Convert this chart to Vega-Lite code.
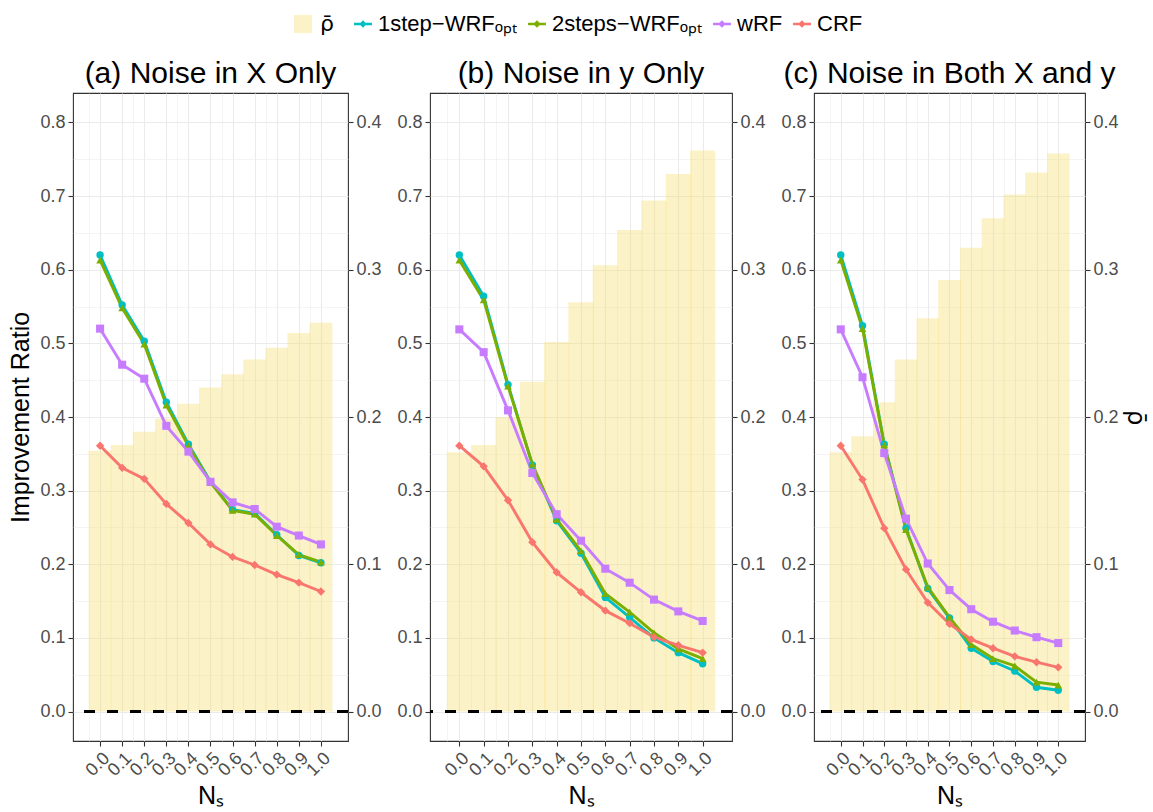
{
  "$schema": "https://vega.github.io/schema/vega-lite/v6.json",
  "padding": {"left": 8, "top": 13, "right": 2, "bottom": 2},
  "spacing": 14,
  "datasets": {
    "lines": [
      {"p":"a","Ns":0.0,"m":"1step−WRFₒₚₜ","v":0.620},{"p":"a","Ns":0.1,"m":"1step−WRFₒₚₜ","v":0.552},{"p":"a","Ns":0.2,"m":"1step−WRFₒₚₜ","v":0.503},{"p":"a","Ns":0.3,"m":"1step−WRFₒₚₜ","v":0.420},{"p":"a","Ns":0.4,"m":"1step−WRFₒₚₜ","v":0.363},{"p":"a","Ns":0.5,"m":"1step−WRFₒₚₜ","v":0.312},{"p":"a","Ns":0.6,"m":"1step−WRFₒₚₜ","v":0.274},{"p":"a","Ns":0.7,"m":"1step−WRFₒₚₜ","v":0.269},{"p":"a","Ns":0.8,"m":"1step−WRFₒₚₜ","v":0.240},{"p":"a","Ns":0.9,"m":"1step−WRFₒₚₜ","v":0.212},{"p":"a","Ns":1.0,"m":"1step−WRFₒₚₜ","v":0.202},
      {"p":"a","Ns":0.0,"m":"2steps−WRFₒₚₜ","v":0.613},{"p":"a","Ns":0.1,"m":"2steps−WRFₒₚₜ","v":0.548},{"p":"a","Ns":0.2,"m":"2steps−WRFₒₚₜ","v":0.499},{"p":"a","Ns":0.3,"m":"2steps−WRFₒₚₜ","v":0.416},{"p":"a","Ns":0.4,"m":"2steps−WRFₒₚₜ","v":0.361},{"p":"a","Ns":0.5,"m":"2steps−WRFₒₚₜ","v":0.311},{"p":"a","Ns":0.6,"m":"2steps−WRFₒₚₜ","v":0.273},{"p":"a","Ns":0.7,"m":"2steps−WRFₒₚₜ","v":0.268},{"p":"a","Ns":0.8,"m":"2steps−WRFₒₚₜ","v":0.239},{"p":"a","Ns":0.9,"m":"2steps−WRFₒₚₜ","v":0.213},{"p":"a","Ns":1.0,"m":"2steps−WRFₒₚₜ","v":0.203},
      {"p":"a","Ns":0.0,"m":"wRF","v":0.520},{"p":"a","Ns":0.1,"m":"wRF","v":0.471},{"p":"a","Ns":0.2,"m":"wRF","v":0.452},{"p":"a","Ns":0.3,"m":"wRF","v":0.388},{"p":"a","Ns":0.4,"m":"wRF","v":0.353},{"p":"a","Ns":0.5,"m":"wRF","v":0.312},{"p":"a","Ns":0.6,"m":"wRF","v":0.284},{"p":"a","Ns":0.7,"m":"wRF","v":0.275},{"p":"a","Ns":0.8,"m":"wRF","v":0.251},{"p":"a","Ns":0.9,"m":"wRF","v":0.239},{"p":"a","Ns":1.0,"m":"wRF","v":0.227},
      {"p":"a","Ns":0.0,"m":"CRF","v":0.361},{"p":"a","Ns":0.1,"m":"CRF","v":0.331},{"p":"a","Ns":0.2,"m":"CRF","v":0.316},{"p":"a","Ns":0.3,"m":"CRF","v":0.282},{"p":"a","Ns":0.4,"m":"CRF","v":0.256},{"p":"a","Ns":0.5,"m":"CRF","v":0.227},{"p":"a","Ns":0.6,"m":"CRF","v":0.210},{"p":"a","Ns":0.7,"m":"CRF","v":0.199},{"p":"a","Ns":0.8,"m":"CRF","v":0.186},{"p":"a","Ns":0.9,"m":"CRF","v":0.175},{"p":"a","Ns":1.0,"m":"CRF","v":0.163},
      {"p":"b","Ns":0.0,"m":"1step−WRFₒₚₜ","v":0.620},{"p":"b","Ns":0.1,"m":"1step−WRFₒₚₜ","v":0.564},{"p":"b","Ns":0.2,"m":"1step−WRFₒₚₜ","v":0.444},{"p":"b","Ns":0.3,"m":"1step−WRFₒₚₜ","v":0.335},{"p":"b","Ns":0.4,"m":"1step−WRFₒₚₜ","v":0.259},{"p":"b","Ns":0.5,"m":"1step−WRFₒₚₜ","v":0.215},{"p":"b","Ns":0.6,"m":"1step−WRFₒₚₜ","v":0.155},{"p":"b","Ns":0.7,"m":"1step−WRFₒₚₜ","v":0.128},{"p":"b","Ns":0.8,"m":"1step−WRFₒₚₜ","v":0.100},{"p":"b","Ns":0.9,"m":"1step−WRFₒₚₜ","v":0.080},{"p":"b","Ns":1.0,"m":"1step−WRFₒₚₜ","v":0.065},
      {"p":"b","Ns":0.0,"m":"2steps−WRFₒₚₜ","v":0.613},{"p":"b","Ns":0.1,"m":"2steps−WRFₒₚₜ","v":0.559},{"p":"b","Ns":0.2,"m":"2steps−WRFₒₚₜ","v":0.442},{"p":"b","Ns":0.3,"m":"2steps−WRFₒₚₜ","v":0.336},{"p":"b","Ns":0.4,"m":"2steps−WRFₒₚₜ","v":0.261},{"p":"b","Ns":0.5,"m":"2steps−WRFₒₚₜ","v":0.218},{"p":"b","Ns":0.6,"m":"2steps−WRFₒₚₜ","v":0.160},{"p":"b","Ns":0.7,"m":"2steps−WRFₒₚₜ","v":0.135},{"p":"b","Ns":0.8,"m":"2steps−WRFₒₚₜ","v":0.107},{"p":"b","Ns":0.9,"m":"2steps−WRFₒₚₜ","v":0.085},{"p":"b","Ns":1.0,"m":"2steps−WRFₒₚₜ","v":0.072},
      {"p":"b","Ns":0.0,"m":"wRF","v":0.519},{"p":"b","Ns":0.1,"m":"wRF","v":0.488},{"p":"b","Ns":0.2,"m":"wRF","v":0.409},{"p":"b","Ns":0.3,"m":"wRF","v":0.324},{"p":"b","Ns":0.4,"m":"wRF","v":0.268},{"p":"b","Ns":0.5,"m":"wRF","v":0.232},{"p":"b","Ns":0.6,"m":"wRF","v":0.194},{"p":"b","Ns":0.7,"m":"wRF","v":0.175},{"p":"b","Ns":0.8,"m":"wRF","v":0.152},{"p":"b","Ns":0.9,"m":"wRF","v":0.136},{"p":"b","Ns":1.0,"m":"wRF","v":0.123},
      {"p":"b","Ns":0.0,"m":"CRF","v":0.361},{"p":"b","Ns":0.1,"m":"CRF","v":0.333},{"p":"b","Ns":0.2,"m":"CRF","v":0.287},{"p":"b","Ns":0.3,"m":"CRF","v":0.230},{"p":"b","Ns":0.4,"m":"CRF","v":0.189},{"p":"b","Ns":0.5,"m":"CRF","v":0.162},{"p":"b","Ns":0.6,"m":"CRF","v":0.137},{"p":"b","Ns":0.7,"m":"CRF","v":0.120},{"p":"b","Ns":0.8,"m":"CRF","v":0.101},{"p":"b","Ns":0.9,"m":"CRF","v":0.090},{"p":"b","Ns":1.0,"m":"CRF","v":0.080},
      {"p":"c","Ns":0.0,"m":"1step−WRFₒₚₜ","v":0.620},{"p":"c","Ns":0.1,"m":"1step−WRFₒₚₜ","v":0.524},{"p":"c","Ns":0.2,"m":"1step−WRFₒₚₜ","v":0.363},{"p":"c","Ns":0.3,"m":"1step−WRFₒₚₜ","v":0.249},{"p":"c","Ns":0.4,"m":"1step−WRFₒₚₜ","v":0.167},{"p":"c","Ns":0.5,"m":"1step−WRFₒₚₜ","v":0.127},{"p":"c","Ns":0.6,"m":"1step−WRFₒₚₜ","v":0.086},{"p":"c","Ns":0.7,"m":"1step−WRFₒₚₜ","v":0.068},{"p":"c","Ns":0.8,"m":"1step−WRFₒₚₜ","v":0.055},{"p":"c","Ns":0.9,"m":"1step−WRFₒₚₜ","v":0.033},{"p":"c","Ns":1.0,"m":"1step−WRFₒₚₜ","v":0.029},
      {"p":"c","Ns":0.0,"m":"2steps−WRFₒₚₜ","v":0.613},{"p":"c","Ns":0.1,"m":"2steps−WRFₒₚₜ","v":0.520},{"p":"c","Ns":0.2,"m":"2steps−WRFₒₚₜ","v":0.362},{"p":"c","Ns":0.3,"m":"2steps−WRFₒₚₜ","v":0.247},{"p":"c","Ns":0.4,"m":"2steps−WRFₒₚₜ","v":0.169},{"p":"c","Ns":0.5,"m":"2steps−WRFₒₚₜ","v":0.128},{"p":"c","Ns":0.6,"m":"2steps−WRFₒₚₜ","v":0.091},{"p":"c","Ns":0.7,"m":"2steps−WRFₒₚₜ","v":0.072},{"p":"c","Ns":0.8,"m":"2steps−WRFₒₚₜ","v":0.062},{"p":"c","Ns":0.9,"m":"2steps−WRFₒₚₜ","v":0.040},{"p":"c","Ns":1.0,"m":"2steps−WRFₒₚₜ","v":0.036},
      {"p":"c","Ns":0.0,"m":"wRF","v":0.519},{"p":"c","Ns":0.1,"m":"wRF","v":0.454},{"p":"c","Ns":0.2,"m":"wRF","v":0.351},{"p":"c","Ns":0.3,"m":"wRF","v":0.262},{"p":"c","Ns":0.4,"m":"wRF","v":0.201},{"p":"c","Ns":0.5,"m":"wRF","v":0.165},{"p":"c","Ns":0.6,"m":"wRF","v":0.139},{"p":"c","Ns":0.7,"m":"wRF","v":0.122},{"p":"c","Ns":0.8,"m":"wRF","v":0.110},{"p":"c","Ns":0.9,"m":"wRF","v":0.101},{"p":"c","Ns":1.0,"m":"wRF","v":0.093},
      {"p":"c","Ns":0.0,"m":"CRF","v":0.361},{"p":"c","Ns":0.1,"m":"CRF","v":0.315},{"p":"c","Ns":0.2,"m":"CRF","v":0.249},{"p":"c","Ns":0.3,"m":"CRF","v":0.193},{"p":"c","Ns":0.4,"m":"CRF","v":0.148},{"p":"c","Ns":0.5,"m":"CRF","v":0.119},{"p":"c","Ns":0.6,"m":"CRF","v":0.098},{"p":"c","Ns":0.7,"m":"CRF","v":0.086},{"p":"c","Ns":0.8,"m":"CRF","v":0.075},{"p":"c","Ns":0.9,"m":"CRF","v":0.067},{"p":"c","Ns":1.0,"m":"CRF","v":0.060}
    ],
    "bars": [
      {"p":"a","Ns":0.0,"rho":0.177},{"p":"a","Ns":0.1,"rho":0.181},{"p":"a","Ns":0.2,"rho":0.190},{"p":"a","Ns":0.3,"rho":0.199},{"p":"a","Ns":0.4,"rho":0.209},{"p":"a","Ns":0.5,"rho":0.220},{"p":"a","Ns":0.6,"rho":0.229},{"p":"a","Ns":0.7,"rho":0.239},{"p":"a","Ns":0.8,"rho":0.247},{"p":"a","Ns":0.9,"rho":0.257},{"p":"a","Ns":1.0,"rho":0.264},
      {"p":"b","Ns":0.0,"rho":0.176},{"p":"b","Ns":0.1,"rho":0.181},{"p":"b","Ns":0.2,"rho":0.200},{"p":"b","Ns":0.3,"rho":0.224},{"p":"b","Ns":0.4,"rho":0.251},{"p":"b","Ns":0.5,"rho":0.278},{"p":"b","Ns":0.6,"rho":0.303},{"p":"b","Ns":0.7,"rho":0.327},{"p":"b","Ns":0.8,"rho":0.347},{"p":"b","Ns":0.9,"rho":0.365},{"p":"b","Ns":1.0,"rho":0.381},
      {"p":"c","Ns":0.0,"rho":0.176},{"p":"c","Ns":0.1,"rho":0.187},{"p":"c","Ns":0.2,"rho":0.210},{"p":"c","Ns":0.3,"rho":0.239},{"p":"c","Ns":0.4,"rho":0.267},{"p":"c","Ns":0.5,"rho":0.293},{"p":"c","Ns":0.6,"rho":0.315},{"p":"c","Ns":0.7,"rho":0.335},{"p":"c","Ns":0.8,"rho":0.351},{"p":"c","Ns":0.9,"rho":0.366},{"p":"c","Ns":1.0,"rho":0.379}
    ]
  },
  "hconcat": [
    {
      "title": "(a) Noise in X Only",
      "width": 275, "height": 648,
      "layer": [
        {
          "data": {"name": "bars"},
          "transform": [{"filter": "datum.p == 'a'"}],
          "mark": {"type": "bar", "size": 22.9, "opacity": 0.42},
          "encoding": {
            "x": {"field": "Ns", "type": "quantitative", "title": "Nₛ", "scale": {"domain": [-0.1, 1.1], "nice": false, "zero": false},
              "axis": {"orient": "bottom", "values": [0,0.1,0.2,0.3,0.4,0.5,0.6,0.7,0.8,0.9,1], "format": ".1f", "labelAngle": -45, "labelOverlap": false, "grid": true, "gridWidth": 1.1}},
            "y": {"field": "rho", "type": "quantitative", "scale": {"domain": [-0.02, 0.42], "nice": false, "zero": false},
              "axis": {"orient": "right", "title": null, "values": [0,0.1,0.2,0.3,0.4], "format": ".1f", "grid": false}},
            "y2": {"datum": 0},
            "color": {"datum": "ρ̄", "scale": {"domain": ["ρ̄"], "range": ["#F7E07A"]},
              "legend": {"title": null, "orient": "top", "symbolType": "square", "symbolSize": 330, "symbolOpacity": 0.42, "labelFontSize": 22, "labelFont": "DejaVu Sans", "labelColor": "black", "labelOffset": 6}}
          }
        },
        {
          "data": {"name": "lines"},
          "transform": [{"filter": "datum.p == 'a'"}],
          "layer": [
            {"mark": {"type": "rule", "color": "black", "strokeWidth": 2.8, "strokeDash": [11, 12]},
             "encoding": {"y": {"datum": 0}}},
            {"mark": {"type": "line", "strokeWidth": 2.9},
             "encoding": {
               "x": {"field": "Ns", "type": "quantitative", "scale": {"domain": [-0.1, 1.1], "nice": false, "zero": false},
                 "axis": {"orient": "top", "title": null, "values": [-0.05,0.05,0.15,0.25,0.35,0.45,0.55,0.65,0.75,0.85,0.95,1.05], "labels": false, "ticks": false, "domain": false, "grid": true, "gridWidth": 0.55}},
               "y": {"field": "v", "type": "quantitative"},
               "stroke": {"field": "m", "type": "nominal", "scale": {"domain": ["1step−WRFₒₚₜ","2steps−WRFₒₚₜ","wRF","CRF"], "range": ["#00BFC4","#7CAE00","#C77CFF","#F8766D"]}, "legend": null}
             }},
            {"mark": {"type": "point", "filled": true, "opacity": 1},
             "encoding": {
               "x": {"field": "Ns", "type": "quantitative"},
               "y": {"field": "v", "type": "quantitative"},
               "fill": {"field": "m", "type": "nominal", "sort": ["1step−WRFₒₚₜ","2steps−WRFₒₚₜ","wRF","CRF"], "scale": {"range": ["#00BFC4","#7CAE00","#C77CFF","#F8766D"]},
                 "legend": {"title": null, "orient": "top", "direction": "horizontal", "symbolType": "M-1,-0.14H1V0.14H-1Z M-0.42,0L0,-0.42L0.42,0L0,0.42Z", "symbolSize": 320, "symbolStrokeWidth": 0, "symbolOpacity": 1, "labelFontSize": 22, "labelColor": "black", "columnPadding": 8, "labelOffset": 4}},
               "shape": {"field": "m", "type": "nominal", "scale": {"domain": ["1step−WRFₒₚₜ","2steps−WRFₒₚₜ","wRF","CRF"], "range": ["circle","triangle-up","square","diamond"]}, "legend": null},
               "size": {"field": "m", "type": "nominal", "scale": {"domain": ["1step−WRFₒₚₜ","2steps−WRFₒₚₜ","wRF","CRF"], "range": [55, 70, 60, 30]}, "legend": null}
             }}
          ],
          "encoding": {
            "y": {"scale": {"domain": [-0.04, 0.84], "nice": false, "zero": false},
              "axis": {"orient": "left", "title": "Improvement Ratio", "titlePadding": 6, "values": [0,0.05,0.1,0.15,0.2,0.25,0.3,0.35,0.4,0.45,0.5,0.55,0.6,0.65,0.7,0.75,0.8],
                "labelExpr": "abs(round(datum.value*20)) % 2 == 0 ? format(datum.value, '.1f') : ''",
                "labelOverlap": false, "grid": true,
                "gridWidth": {"condition": {"test": "abs(round(datum.value*20)) % 2 == 0", "value": 1.1}, "value": 0.55},
                "tickOpacity": {"condition": {"test": "abs(round(datum.value*20)) % 2 == 0", "value": 1}, "value": 0}}}
          }
        }
      ],
      "resolve": {"scale": {"y": "independent"}, "axis": {"x": "independent"}}
    },
    {
      "title": "(b) Noise in y Only",
      "width": 302, "height": 648,
      "layer": [
        {
          "data": {"name": "bars"},
          "transform": [{"filter": "datum.p == 'b'"}],
          "mark": {"type": "bar", "size": 25.2, "opacity": 0.42},
          "encoding": {
            "x": {"field": "Ns", "type": "quantitative", "title": "Nₛ", "scale": {"domain": [-0.1, 1.1], "nice": false, "zero": false},
              "axis": {"orient": "bottom", "values": [0,0.1,0.2,0.3,0.4,0.5,0.6,0.7,0.8,0.9,1], "format": ".1f", "labelAngle": -45, "labelOverlap": false, "grid": true, "gridWidth": 1.1}},
            "y": {"field": "rho", "type": "quantitative", "scale": {"domain": [-0.02, 0.42], "nice": false, "zero": false},
              "axis": {"orient": "right", "title": null, "values": [0,0.1,0.2,0.3,0.4], "format": ".1f", "grid": false}},
            "y2": {"datum": 0},
            "color": {"datum": "ρ̄", "scale": {"domain": ["ρ̄"], "range": ["#F7E07A"]},
              "legend": {"title": null, "orient": "top", "symbolType": "square", "symbolSize": 330, "symbolOpacity": 0.42, "labelFontSize": 22, "labelFont": "DejaVu Sans", "labelColor": "black", "labelOffset": 6}}
          }
        },
        {
          "data": {"name": "lines"},
          "transform": [{"filter": "datum.p == 'b'"}],
          "layer": [
            {"mark": {"type": "rule", "color": "black", "strokeWidth": 2.8, "strokeDash": [11, 12]},
             "encoding": {"y": {"datum": 0}}},
            {"mark": {"type": "line", "strokeWidth": 2.9},
             "encoding": {
               "x": {"field": "Ns", "type": "quantitative", "scale": {"domain": [-0.1, 1.1], "nice": false, "zero": false},
                 "axis": {"orient": "top", "title": null, "values": [-0.05,0.05,0.15,0.25,0.35,0.45,0.55,0.65,0.75,0.85,0.95,1.05], "labels": false, "ticks": false, "domain": false, "grid": true, "gridWidth": 0.55}},
               "y": {"field": "v", "type": "quantitative"},
               "stroke": {"field": "m", "type": "nominal", "legend": null}
             }},
            {"mark": {"type": "point", "filled": true, "opacity": 1},
             "encoding": {
               "x": {"field": "Ns", "type": "quantitative"},
               "y": {"field": "v", "type": "quantitative"},
               "fill": {"field": "m", "type": "nominal", "sort": ["1step−WRFₒₚₜ","2steps−WRFₒₚₜ","wRF","CRF"],
                 "legend": {"title": null, "orient": "top", "direction": "horizontal", "symbolType": "M-1,-0.14H1V0.14H-1Z M-0.42,0L0,-0.42L0.42,0L0,0.42Z", "symbolSize": 320, "symbolStrokeWidth": 0, "symbolOpacity": 1, "labelFontSize": 22, "labelColor": "black", "columnPadding": 8, "labelOffset": 4}},
               "shape": {"field": "m", "type": "nominal", "legend": null},
               "size": {"field": "m", "type": "nominal", "legend": null}
             }}
          ],
          "encoding": {
            "y": {"scale": {"domain": [-0.04, 0.84], "nice": false, "zero": false},
              "axis": {"orient": "left", "title": null, "values": [0,0.05,0.1,0.15,0.2,0.25,0.3,0.35,0.4,0.45,0.5,0.55,0.6,0.65,0.7,0.75,0.8],
                "labelExpr": "abs(round(datum.value*20)) % 2 == 0 ? format(datum.value, '.1f') : ''",
                "labelOverlap": false, "grid": true,
                "gridWidth": {"condition": {"test": "abs(round(datum.value*20)) % 2 == 0", "value": 1.1}, "value": 0.55},
                "tickOpacity": {"condition": {"test": "abs(round(datum.value*20)) % 2 == 0", "value": 1}, "value": 0}}}
          }
        }
      ],
      "resolve": {"scale": {"y": "independent"}, "axis": {"x": "independent"}}
    },
    {
      "title": "(c) Noise in Both X and y",
      "width": 271, "height": 648,
      "layer": [
        {
          "data": {"name": "bars"},
          "transform": [{"filter": "datum.p == 'c'"}],
          "mark": {"type": "bar", "size": 22.6, "opacity": 0.42},
          "encoding": {
            "x": {"field": "Ns", "type": "quantitative", "title": "Nₛ", "scale": {"domain": [-0.1, 1.1], "nice": false, "zero": false},
              "axis": {"orient": "bottom", "values": [0,0.1,0.2,0.3,0.4,0.5,0.6,0.7,0.8,0.9,1], "format": ".1f", "labelAngle": -45, "labelOverlap": false, "grid": true, "gridWidth": 1.1}},
            "y": {"field": "rho", "type": "quantitative", "scale": {"domain": [-0.02, 0.42], "nice": false, "zero": false},
              "axis": {"orient": "right", "title": "ρ̄", "titleFont": "DejaVu Sans", "titleFontSize": 24, "titlePadding": 4, "values": [0,0.1,0.2,0.3,0.4], "format": ".1f", "grid": false}},
            "y2": {"datum": 0},
            "color": {"datum": "ρ̄", "scale": {"domain": ["ρ̄"], "range": ["#F7E07A"]},
              "legend": {"title": null, "orient": "top", "symbolType": "square", "symbolSize": 330, "symbolOpacity": 0.42, "labelFontSize": 22, "labelFont": "DejaVu Sans", "labelColor": "black", "labelOffset": 6}}
          }
        },
        {
          "data": {"name": "lines"},
          "transform": [{"filter": "datum.p == 'c'"}],
          "layer": [
            {"mark": {"type": "rule", "color": "black", "strokeWidth": 2.8, "strokeDash": [11, 12]},
             "encoding": {"y": {"datum": 0}}},
            {"mark": {"type": "line", "strokeWidth": 2.9},
             "encoding": {
               "x": {"field": "Ns", "type": "quantitative", "scale": {"domain": [-0.1, 1.1], "nice": false, "zero": false},
                 "axis": {"orient": "top", "title": null, "values": [-0.05,0.05,0.15,0.25,0.35,0.45,0.55,0.65,0.75,0.85,0.95,1.05], "labels": false, "ticks": false, "domain": false, "grid": true, "gridWidth": 0.55}},
               "y": {"field": "v", "type": "quantitative"},
               "stroke": {"field": "m", "type": "nominal", "legend": null}
             }},
            {"mark": {"type": "point", "filled": true, "opacity": 1},
             "encoding": {
               "x": {"field": "Ns", "type": "quantitative"},
               "y": {"field": "v", "type": "quantitative"},
               "fill": {"field": "m", "type": "nominal", "sort": ["1step−WRFₒₚₜ","2steps−WRFₒₚₜ","wRF","CRF"],
                 "legend": {"title": null, "orient": "top", "direction": "horizontal", "symbolType": "M-1,-0.14H1V0.14H-1Z M-0.42,0L0,-0.42L0.42,0L0,0.42Z", "symbolSize": 320, "symbolStrokeWidth": 0, "symbolOpacity": 1, "labelFontSize": 22, "labelColor": "black", "columnPadding": 8, "labelOffset": 4}},
               "shape": {"field": "m", "type": "nominal", "legend": null},
               "size": {"field": "m", "type": "nominal", "legend": null}
             }}
          ],
          "encoding": {
            "y": {"scale": {"domain": [-0.04, 0.84], "nice": false, "zero": false},
              "axis": {"orient": "left", "title": null, "values": [0,0.05,0.1,0.15,0.2,0.25,0.3,0.35,0.4,0.45,0.5,0.55,0.6,0.65,0.7,0.75,0.8],
                "labelExpr": "abs(round(datum.value*20)) % 2 == 0 ? format(datum.value, '.1f') : ''",
                "labelOverlap": false, "grid": true,
                "gridWidth": {"condition": {"test": "abs(round(datum.value*20)) % 2 == 0", "value": 1.1}, "value": 0.55},
                "tickOpacity": {"condition": {"test": "abs(round(datum.value*20)) % 2 == 0", "value": 1}, "value": 0}}}
          }
        }
      ],
      "resolve": {"scale": {"y": "independent"}, "axis": {"x": "independent"}}
    }
  ],
  "config": {
    "font": "Liberation Sans",
    "view": {"stroke": "#333333", "strokeWidth": 1.1},
    "axis": {"domain": false, "labelFontSize": 18, "labelColor": "#4D4D4D", "labelFont": "Liberation Sans", "tickColor": "#333333", "tickSize": 5, "tickWidth": 1.1, "titleFontSize": 25, "titleFontWeight": "normal", "titleColor": "black", "titleFont": "Liberation Sans", "gridColor": "#EBEBEB", "labelPadding": 3},
    "title": {"fontSize": 30, "fontWeight": "normal", "color": "black", "font": "Liberation Sans", "offset": 4},
    "legend": {"labelFont": "Liberation Sans", "offset": 23, "layout": {"top": {"anchor": "middle", "margin": 18}}}
  }
}
